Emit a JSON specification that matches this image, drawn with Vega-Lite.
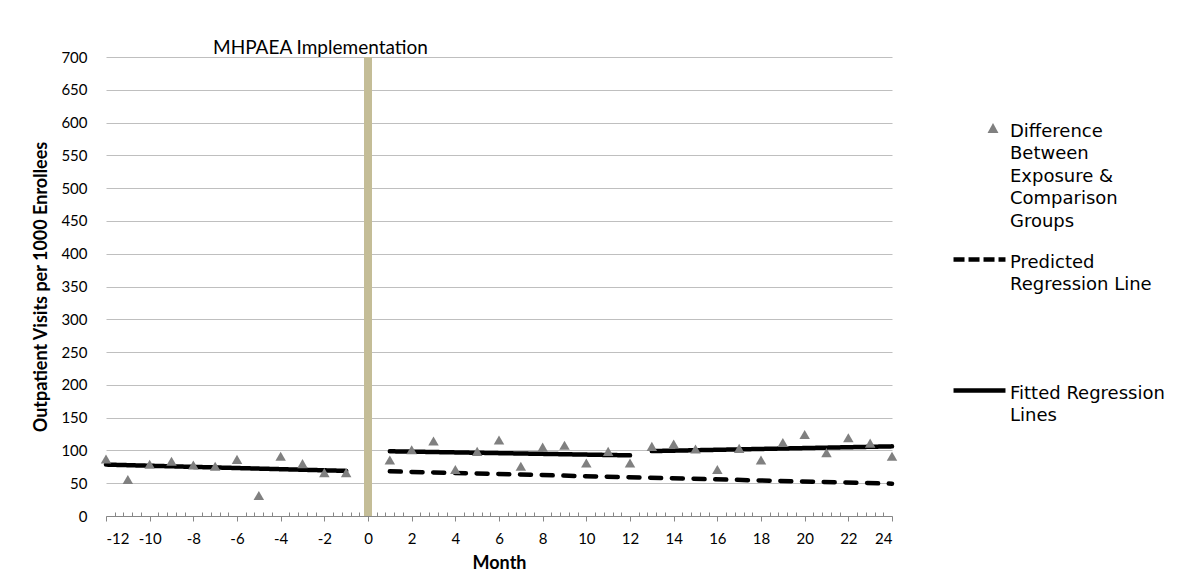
{
  "$schema": "https://vega.github.io/schema/vega-lite/v6.json",
  "width": 786,
  "height": 459,
  "autosize": {"type": "none"},
  "padding": {"left": 106, "top": 57, "right": 310, "bottom": 58},
  "background": "white",
  "title": {"text": "MHPAEA  Implementation", "anchor": "start", "frame": "group", "dx": 107, "dy": 27, "offset": 4, "baseline": "alphabetic", "fontSize": 19, "font": "Lato", "fontWeight": "normal", "color": "#000000"},
  "config": {"view": {"stroke": null}, "font": "Lato"},
  "encoding": {
    "x": {
      "field": "month", "type": "quantitative",
      "scale": {"domain": [-12, 24], "nice": false, "zero": false},
      "axis": {
        "title": "Month", "titleFont": "Lato", "titleFontSize": 18, "titleFontWeight": "bold", "titleColor": "#000000", "titlePadding": 8,
        "grid": false,
        "values": [-12, -11.6, -11.2, -10.8, -10.4, -10, -9.6, -9.2, -8.8, -8.4, -8, -7.6, -7.2, -6.8, -6.4, -6, -5.6, -5.2, -4.8, -4.4, -4, -3.6, -3.2, -2.8, -2.4, -2, -1.6, -1.2, -0.8, -0.4, 0, 0.4, 0.8, 1.2, 1.6, 2, 2.4, 2.8, 3.2, 3.6, 4, 4.4, 4.8, 5.2, 5.6, 6, 6.4, 6.8, 7.2, 7.6, 8, 8.4, 8.8, 9.2, 9.6, 10, 10.4, 10.8, 11.2, 11.6, 12, 12.4, 12.8, 13.2, 13.6, 14, 14.4, 14.8, 15.2, 15.6, 16, 16.4, 16.8, 17.2, 17.6, 18, 18.4, 18.8, 19.2, 19.6, 20, 20.4, 20.8, 21.2, 21.6, 22, 22.4, 22.8, 23.2, 23.6, 24],
        "labelExpr": "abs(datum.value % 2) < 0.01 ? '' + datum.value : ''",
        "labelOverlap": false,
        "labelFont": "Lato", "labelFontSize": 15, "labelColor": "#000000", "labelPadding": 10,
        "domainColor": "#868686", "domainWidth": 1,
        "tickColor": "#868686", "tickWidth": 1,
        "tickSize": {"condition": {"test": "abs(datum.value % 2) < 0.01", "value": 5}, "value": -4}
      }
    },
    "y": {
      "field": "value", "type": "quantitative",
      "scale": {"domain": [0, 700], "nice": false},
      "axis": {
        "title": "Outpatient Visits per 1000 Enrollees", "titleFont": "Lato", "titleFontSize": 18, "titleFontWeight": "bold", "titleColor": "#000000", "titlePadding": 10,
        "values": [0, 50, 100, 150, 200, 250, 300, 350, 400, 450, 500, 550, 600, 650, 700],
        "domain": false, "ticks": false,
        "labelFont": "Lato", "labelFontSize": 15, "labelColor": "#000000", "labelPadding": 19,
        "gridColor": "#BFBFBF", "gridWidth": 1
      }
    }
  },
  "layer": [
    {
      "data": {"values": [{"month": 0, "value": 0, "value2": 700}]},
      "mark": {"type": "rule", "color": "#C4BD97", "strokeWidth": 8},
      "encoding": {"y2": {"field": "value2"}}
    },
    {
      "data": {"values": [
        {"month": -12, "value": 78.4, "segment": "pre", "style": "solid"},
        {"month": -1, "value": 68.8, "segment": "pre", "style": "solid"},
        {"month": 1, "value": 98.7, "segment": "post1", "style": "solid"},
        {"month": 12, "value": 92.5, "segment": "post1", "style": "solid"},
        {"month": 13, "value": 99.0, "segment": "post2", "style": "solid"},
        {"month": 24, "value": 106.2, "segment": "post2", "style": "solid"},
        {"month": 1, "value": 68.1, "segment": "pred", "style": "dashed"},
        {"month": 24, "value": 49.3, "segment": "pred", "style": "dashed"}
      ]},
      "mark": {"type": "line", "color": "#000000", "strokeWidth": 4.5, "strokeCap": "round"},
      "encoding": {
        "detail": {"field": "segment"},
        "strokeDash": {"field": "style", "type": "nominal", "scale": {"domain": ["dashed", "solid"], "range": [[11, 10.7], [1, 0]]}, "legend": null}
      }
    },
    {
      "data": {"values": [
        {"month": -12, "value": 87.0, "series": "Difference Between Exposure & Comparison Groups"},
        {"month": -11, "value": 55.6, "series": "Difference Between Exposure & Comparison Groups"},
        {"month": -10, "value": 78.9, "series": "Difference Between Exposure & Comparison Groups"},
        {"month": -9, "value": 83.4, "series": "Difference Between Exposure & Comparison Groups"},
        {"month": -8, "value": 77.9, "series": "Difference Between Exposure & Comparison Groups"},
        {"month": -7, "value": 75.8, "series": "Difference Between Exposure & Comparison Groups"},
        {"month": -6, "value": 86.4, "series": "Difference Between Exposure & Comparison Groups"},
        {"month": -5, "value": 31.3, "series": "Difference Between Exposure & Comparison Groups"},
        {"month": -4, "value": 91.0, "series": "Difference Between Exposure & Comparison Groups"},
        {"month": -3, "value": 79.9, "series": "Difference Between Exposure & Comparison Groups"},
        {"month": -2, "value": 66.2, "series": "Difference Between Exposure & Comparison Groups"},
        {"month": -1, "value": 66.2, "series": "Difference Between Exposure & Comparison Groups"},
        {"month": 1, "value": 85.4, "series": "Difference Between Exposure & Comparison Groups"},
        {"month": 2, "value": 101.0, "series": "Difference Between Exposure & Comparison Groups"},
        {"month": 3, "value": 114.3, "series": "Difference Between Exposure & Comparison Groups"},
        {"month": 4, "value": 70.8, "series": "Difference Between Exposure & Comparison Groups"},
        {"month": 5, "value": 98.6, "series": "Difference Between Exposure & Comparison Groups"},
        {"month": 6, "value": 115.9, "series": "Difference Between Exposure & Comparison Groups"},
        {"month": 7, "value": 75.8, "series": "Difference Between Exposure & Comparison Groups"},
        {"month": 8, "value": 105.1, "series": "Difference Between Exposure & Comparison Groups"},
        {"month": 9, "value": 107.8, "series": "Difference Between Exposure & Comparison Groups"},
        {"month": 10, "value": 80.9, "series": "Difference Between Exposure & Comparison Groups"},
        {"month": 11, "value": 98.6, "series": "Difference Between Exposure & Comparison Groups"},
        {"month": 12, "value": 80.9, "series": "Difference Between Exposure & Comparison Groups"},
        {"month": 13, "value": 106.2, "series": "Difference Between Exposure & Comparison Groups"},
        {"month": 14, "value": 109.8, "series": "Difference Between Exposure & Comparison Groups"},
        {"month": 15, "value": 102.1, "series": "Difference Between Exposure & Comparison Groups"},
        {"month": 16, "value": 70.8, "series": "Difference Between Exposure & Comparison Groups"},
        {"month": 17, "value": 103.1, "series": "Difference Between Exposure & Comparison Groups"},
        {"month": 18, "value": 85.4, "series": "Difference Between Exposure & Comparison Groups"},
        {"month": 19, "value": 112.2, "series": "Difference Between Exposure & Comparison Groups"},
        {"month": 20, "value": 124.4, "series": "Difference Between Exposure & Comparison Groups"},
        {"month": 21, "value": 96.7, "series": "Difference Between Exposure & Comparison Groups"},
        {"month": 22, "value": 119.3, "series": "Difference Between Exposure & Comparison Groups"},
        {"month": 23, "value": 111.2, "series": "Difference Between Exposure & Comparison Groups"},
        {"month": 24, "value": 91.0, "series": "Difference Between Exposure & Comparison Groups"}
      ]},
      "mark": {"type": "point", "filled": true, "shape": "triangle-up", "color": "#808080", "size": 110},
      "encoding": {
        "opacity": {
          "field": "series", "type": "ordinal",
          "scale": {"domain": ["Difference Between Exposure & Comparison Groups", "Predicted Regression Line", "Fitted Regression Lines"], "range": [1, 1, 1]},
          "legend": {
            "orient": "none", "legendX": 845, "legendY": 43,
            "title": null,
            "symbolSize": 2700,
            "labelExpr": "datum.label === 'Difference Between Exposure & Comparison Groups' ? ['Difference', 'Between', 'Exposure &', 'Comparison', 'Groups'] : datum.label === 'Predicted Regression Line' ? ['Predicted', 'Regression Line', '', '', ''] : ['Fitted Regression', 'Lines', '', '', '']",
            "labelFont": "DejaVu Sans", "labelFontSize": 18, "labelColor": "#000000", "labelLimit": 300, "labelOffset": 2,
            "labelBaseline": "top",
            "rowPadding": 0,
            "encoding": {
              "symbols": {
                "shape": {"condition": {"test": "datum.value === 'Difference Between Exposure & Comparison Groups'", "value": "M0.52,-0.21L0.73,0.175L0.31,0.175Z"}, "value": "M-1,0H1"},
                "fill": {"condition": {"test": "datum.value === 'Difference Between Exposure & Comparison Groups'", "value": "#808080"}, "value": "transparent"},
                "stroke": {"condition": {"test": "datum.value === 'Difference Between Exposure & Comparison Groups'", "value": "transparent"}, "value": "#000000"},
                "strokeWidth": {"value": 4.5},
                "strokeDash": {"condition": {"test": "datum.value === 'Predicted Regression Line'", "value": [11, 4]}, "value": [1, 0]}
              },
              "labels": {"lineHeight": {"value": 22.5}, "dy": {"value": -6}}
            }
          }
        }
      }
    }
  ]
}
